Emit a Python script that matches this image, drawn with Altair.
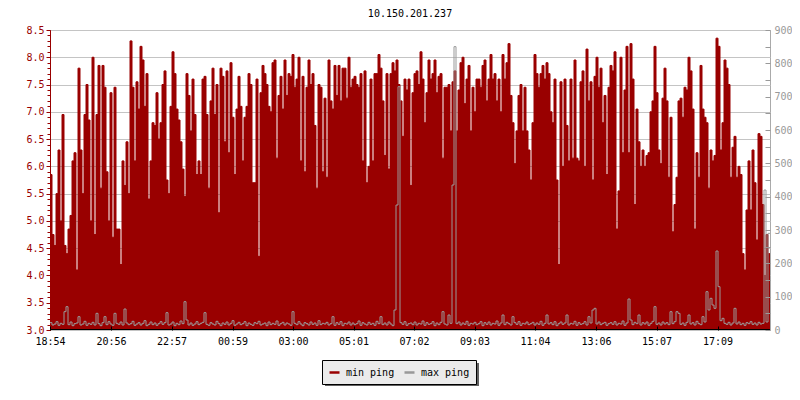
import altair as alt
import pandas as pd

title_text = "10.150.201.237"
series_names = ["min ping", "max ping"]
series_colors = ["#990000", "#999999"]

tick_minutes = [0, 122, 243, 365, 486, 607, 728, 849, 970, 1092, 1213, 1335]
tick_labels = ["18:54", "20:56", "22:57", "00:59", "03:00", "05:01",
               "07:02", "09:03", "11:04", "13:06", "15:07", "17:09"]
left_ticks = [3.0, 3.5, 4.0, 4.5, 5.0, 5.5, 6.0, 6.5, 7.0, 7.5, 8.0, 8.5]
right_ticks = [0, 50, 100, 150, 200, 250, 300, 350, 400, 450, 500,
               550, 600, 650, 700, 750, 800, 850, 900]
sample_minutes = 4

min_ping = [
    5.85, 4.75, 4.55, 5.5, 6.3, 5.0, 6.95, 4.55, 4.4, 4.85,
    5.1, 6.1, 6.25, 4.1, 7.8, 6.3, 5.5, 6.95, 7.5, 6.85,
    5.0, 8.0, 4.75, 6.95, 7.85, 5.6, 7.85, 7.45, 5.9, 5.0,
    7.35, 4.7, 7.45, 4.85, 4.85, 4.2, 6.1, 5.65, 6.45, 5.5,
    8.3, 7.45, 6.1, 7.55, 7.05, 8.2, 7.95, 7.1, 7.7, 5.4,
    6.1, 6.8, 6.75, 7.35, 6.5, 6.8, 7.5, 7.75, 5.75, 5.5,
    7.1, 8.1, 7.7, 7.05, 6.85, 6.45, 5.95, 5.45, 7.7, 7.3,
    6.65, 7.6, 6.95, 5.85, 6.1, 5.85, 7.6, 7.65, 6.95, 5.6,
    7.2, 7.8, 6.95, 7.5, 5.15, 7.8, 7.65, 6.45, 7.75, 6.25,
    7.9, 6.9, 5.85, 7.05, 7.65, 7.1, 6.1, 6.9, 7.1, 7.7,
    7.5, 5.7, 5.7, 7.6, 4.35, 7.35, 7.85, 7.7, 7.5, 7.1,
    7.0, 7.9, 7.95, 6.15, 7.3, 7.65, 7.05, 7.95, 7.3, 7.7,
    7.65, 8.05, 7.45, 7.6, 8.0, 6.1, 7.65, 5.9, 7.45, 7.95,
    7.5, 7.7, 6.75, 5.6, 7.5, 7.45, 5.9, 7.25, 5.8, 7.95,
    7.2, 7.05, 7.85, 7.3, 7.85, 7.2, 7.8, 7.8, 7.25, 8.0,
    7.45, 7.6, 7.65, 7.5, 7.45, 7.7, 6.1, 7.75, 5.7, 6.0,
    7.6, 6.1, 7.7, 7.7, 8.05, 7.8, 7.2, 6.2, 7.7, 5.95,
    7.7, 7.9, 7.75, 7.95, 7.5, 7.2, 6.55, 7.6, 7.4, 7.6,
    5.65, 7.35, 7.7, 7.75, 7.5, 8.1, 7.6, 6.8, 7.35, 7.95,
    7.6, 7.7, 7.95, 7.35, 7.65, 7.7, 6.15, 7.45, 7.45, 7.5,
    6.65, 7.55, 7.75, 6.65, 7.4, 7.9, 8.0, 7.15, 7.6, 7.85,
    6.65, 7.45, 7.0, 7.6, 7.6, 7.45, 7.85, 7.95, 7.2, 7.6,
    8.05, 7.6, 7.7, 7.2, 7.6, 7.0, 8.05, 7.6, 7.9, 8.25,
    7.3, 6.8, 6.05, 6.65, 7.3, 7.5, 6.65, 7.45, 6.65, 6.3,
    5.75, 6.8, 8.05, 7.7, 7.45, 7.7, 7.85, 7.6, 7.9, 7.7,
    7.0, 6.8, 7.6, 5.75, 4.2, 7.55, 6.0, 7.6, 6.75, 6.1,
    7.6, 6.15, 7.95, 6.15, 6.1, 7.55, 7.75, 6.0, 8.15, 7.2,
    7.55, 5.75, 7.65, 8.0, 7.45, 7.8, 6.8, 7.3, 5.85, 7.45,
    7.85, 7.75, 8.1, 4.85, 5.55, 8.0, 6.25, 7.4, 8.2, 6.25,
    8.25, 7.6, 5.3, 7.05, 6.45, 6.0, 6.3, 6.0, 6.2, 6.25,
    7.0, 7.2, 8.2, 7.35, 6.3, 6.05, 7.25, 7.8, 7.2, 5.8,
    6.9, 4.8, 5.3, 5.8, 7.2, 7.25, 6.9, 7.45, 7.4, 8.0,
    7.75, 7.05, 4.85, 6.25, 5.8, 7.85, 7.05, 6.9, 6.8, 5.6,
    6.3, 6.1, 6.2, 8.35, 8.2, 6.3, 6.8, 7.95, 7.8, 7.5,
    5.8, 6.35, 6.55, 5.8, 6.0, 5.85, 4.4, 4.1, 5.2, 6.1,
    5.2, 6.3, 5.7, 4.65, 6.6, 6.55, 5.3, 4.0, 4.75, 4.4,
]

max_ping = [
    22, 15, 18, 25, 14, 20, 17, 55, 70, 16, 24, 13, 19, 21, 40, 15, 18, 26, 14, 20,
    17, 23, 15, 50, 19, 13, 22, 40, 16, 25, 18, 14, 50, 20, 17, 24, 15, 63, 21, 16,
    19, 26, 14, 18, 22, 15, 20, 28, 13, 17, 24, 16, 21, 14, 19, 25, 17, 22, 52, 15,
    18, 24, 13, 20, 16, 27, 19, 85, 30, 15, 21, 14, 18, 25, 16, 20, 23, 52, 17, 14,
    22, 18, 15, 26, 19, 13, 21, 17, 24, 15, 20, 28, 14, 18, 23, 16, 19, 25, 13, 21,
    17, 14, 22, 19, 26, 15, 18, 21, 13, 24, 16, 20, 17, 27, 14, 19, 23, 15, 21, 18,
    14, 55, 20, 16, 25, 18, 13, 22, 19, 15, 24, 17, 21, 14, 28, 16, 20, 18, 23, 15,
    19, 40, 14, 22, 17, 25, 13, 20, 18, 24, 15, 21, 16, 19, 27, 14, 22, 18, 15, 23,
    17, 20, 14, 26, 19, 40, 16, 21, 15, 24, 18, 13, 60, 375, 730, 22, 17, 25, 14, 19,
    21, 16, 24, 15, 20, 18, 27, 14, 22, 17, 19, 25, 13, 21, 16, 23, 55, 18, 15, 45,
    20, 435, 850, 19, 24, 15, 21, 17, 26, 14, 20, 18, 23, 16, 19, 25, 13, 22, 17, 24,
    15, 20, 18, 27, 14, 21, 45, 16, 23, 19, 15, 40, 22, 17, 25, 14, 20, 18, 24, 16,
    19, 23, 15, 21, 17, 26, 14, 20, 45, 18, 22, 16, 25, 13, 19, 24, 17, 21, 45, 15,
    20, 18, 26, 14, 22, 17, 19, 25, 15, 40, 21, 60, 65, 18, 24, 16, 20, 23, 14, 19,
    22, 17, 25, 15, 20, 18, 27, 14, 21, 93, 30, 16, 23, 19, 45, 15, 22, 18, 24, 14,
    20, 26, 70, 17, 21, 15, 24, 18, 22, 16, 55, 19, 25, 55, 50, 17, 21, 14, 23, 45,
    18, 22, 15, 26, 19, 16, 40, 24, 115, 60, 95, 75, 65, 237, 130, 28, 35, 20, 17, 23,
    15, 21, 65, 18, 24, 16, 20, 14, 22, 19, 25, 17, 21, 15, 23, 18, 20, 420, 24, 290,
]

FONT = "DejaVu Sans Mono"
FS = 10
RED = series_colors[0]
GRAY = series_colors[1]

n = len(min_ping)
end_minute = n * sample_minutes
minutes = [i * sample_minutes for i in range(n)] + [end_minute]
df_min = pd.DataFrame({"minute": minutes, "min_ping": min_ping + [min_ping[-1]],
                       "series": series_names[0]})
df_max = pd.DataFrame({"minute": minutes, "max_ping": max_ping + [max_ping[-1]],
                       "series": series_names[1]})

x_scale = alt.Scale(domain=[0, end_minute], nice=False, zero=False)
y_left_scale = alt.Scale(domain=[3.0, 8.5], nice=False, zero=False)
y_right_scale = alt.Scale(domain=[0, 900], nice=False, zero=True)
color_scale = alt.Scale(domain=series_names, range=series_colors)

label_expr = ""
for m, s in zip(tick_minutes, tick_labels):
    label_expr += f"datum.value == {m} ? '{s}' : "
label_expr += "''"
minor_ticks = [round(3.0 + 0.1 * i, 1) for i in range(56)]

x_axis = alt.Axis(values=tick_minutes, labelExpr=label_expr, title=None, grid=False,
                  domain=False, ticks=True, tickColor="black", tickSize=4, offset=-4,
                  labelPadding=6, labelColor="black", labelFlush=False,
                  labelOverlap=False, zindex=1)

area = alt.Chart(df_min).mark_area(color=RED, interpolate="step-after").encode(
    x=alt.X("minute:Q", scale=x_scale, axis=x_axis),
    y=alt.Y("min_ping:Q", scale=y_left_scale,
            axis=alt.Axis(orient="left", values=left_ticks, format=".1f", title=None,
                          grid=True, gridColor="#c4c4c4", domainColor=RED,
                          tickColor=RED, labelColor=RED, tickSize=4, labelPadding=2,
                          labelOverlap=False)),
    y2=alt.datum(3.0),
)

red_line = alt.Chart(df_min).mark_line(interpolate="step-after", strokeWidth=1).encode(
    x=alt.X("minute:Q", scale=x_scale),
    y=alt.Y("min_ping:Q", scale=y_left_scale,
            axis=alt.Axis(orient="left", values=minor_ticks, labels=False, grid=False,
                          domain=False, tickColor=RED, tickSize=3, title=None)),
    color=alt.Color("series:N", scale=color_scale,
                    legend=alt.Legend(title=None, orient="none", legendX=272, legendY=330,
                                      direction="horizontal", columns=2, gridAlign="none",
                                      fillColor="#ebebeb", strokeColor="black",
                                      padding=6, symbolType="stroke",
                                      symbolStrokeWidth=2.5, symbolSize=100,
                                      labelFont=FONT, labelFontSize=FS,
                                      labelColor="black", columnPadding=4,
                                      labelOffset=5,
                                      labelExpr="datum.label == 'max ping' ? datum.label + '  ' : datum.label")),
)

gray_line = alt.Chart(df_max).mark_line(interpolate="step-after", strokeWidth=1).encode(
    x=alt.X("minute:Q", scale=x_scale),
    y=alt.Y("max_ping:Q", scale=y_right_scale,
            axis=alt.Axis(orient="right", values=right_ticks,
                          labelExpr="datum.value % 100 == 0 ? datum.label : ''",
                          domain=False, offset=-5, tickSize=5, tickColor=GRAY,
                          labelColor=GRAY, labelPadding=4, grid=False, title=None,
                          labelOverlap=False, zindex=1)),
    color=alt.Color("series:N", scale=color_scale),
)

deco = alt.Data(values=[{}])
shadow = alt.Chart(deco).mark_rect(color="#606060").encode(
    x=alt.value(275), x2=alt.value(429), y=alt.value(333), y2=alt.value(356)
)
bottom_rule = alt.Chart(deco).mark_rule(color="black", strokeWidth=1).encode(
    x=alt.value(0), x2=alt.value(720), y=alt.value(299.5)
)

inner = alt.layer(area, red_line).resolve_axis(y="independent")

chart = alt.layer(shadow, inner, gray_line, bottom_rule).resolve_scale(
    y="independent"
).properties(
    width=720,
    height=300,
    padding={"left": 42, "top": 22, "right": 22, "bottom": 56},
    autosize=alt.AutoSizeParams(type="none"),
    title=alt.TitleParams(title_text, font=FONT, fontSize=FS, fontWeight="normal",
                          color="black", anchor="middle", frame="group", offset=6),
).configure_axis(
    labelFont=FONT, labelFontSize=FS
).configure_view(
    stroke="#aaaaaa"
)

chart.save("out.html", embed_options={"renderer": "svg", "actions": False})
